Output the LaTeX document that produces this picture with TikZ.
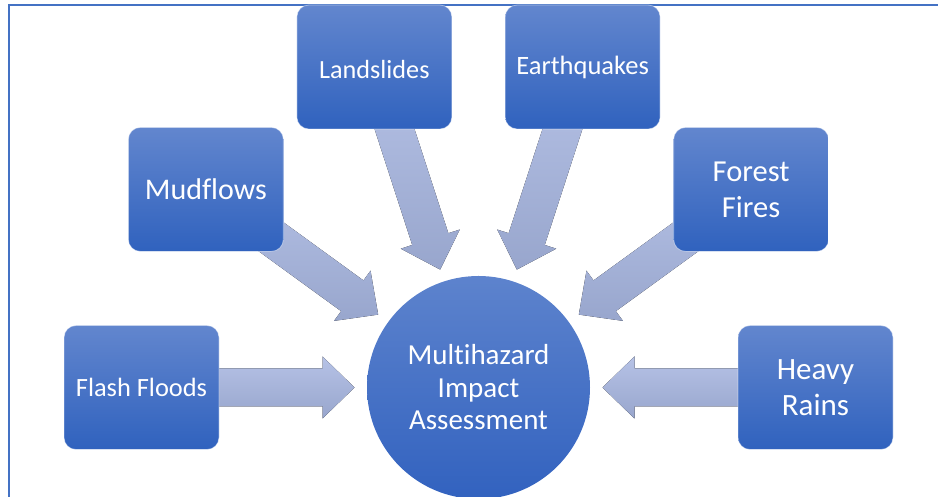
\documentclass[tikz,border=0pt]{standalone}
\usepackage{fontspec}
\setmainfont{Carlito}[Ligatures={NoCommon}]
\usetikzlibrary{calc}
\definecolor{boxtop}{HTML}{6286CE}
\definecolor{boxbot}{HTML}{3062BE}
\definecolor{hubtop}{HTML}{5D83CD}
\definecolor{hubbot}{HTML}{3262BF}
\definecolor{arrtop}{HTML}{B6C2E6}
\definecolor{arrbot}{HTML}{98A6CD}
\definecolor{framecol}{HTML}{4472C4}
\begin{document}
\begin{tikzpicture}[x=1pt,y=1pt,
  hazard/.style={rectangle, rounded corners=12pt, minimum width=155pt, minimum height=124pt,
    top color=boxtop, bottom color=boxbot, draw=white, draw opacity=0.45, line width=0.8pt,
    text=white, align=center, inner sep=0pt},
  hubstyle/.style={circle, minimum size=223pt, top color=hubtop, bottom color=hubbot,
    text=white, align=center, inner sep=0pt},
  bigarrow/.style={top color=arrtop, bottom color=arrbot, draw=none},
  frameline/.style={draw=framecol, line width=1.6pt}]
\useasboundingbox (0,0) rectangle (938,497);
\clip (0,0) rectangle (938,497);
\coordinate (f1) at (9,0);
\coordinate (f2) at (9,492);
\coordinate (f3) at (938,492);
\draw[frameline] (f1) -- (f2) -- (f3);

\node[hubstyle, font=\fontsize{29}{32.5}\selectfont] (hub) at (478.5,109.5) {Multihazard\\Impact\\Assessment};

\foreach \a in {180,144,108,72,36,0} {
  \fill[bigarrow]
    ($(hub.center)+(\a:124)$) --
    ($(hub.center)+(\a:156)+(\a+90:31)$) --
    ($(hub.center)+(\a:156)+(\a+90:19)$) --
    ($(hub.center)+(\a:337)+(\a+90:19)$) --
    ($(hub.center)+(\a:337)+(\a-90:19)$) --
    ($(hub.center)+(\a:156)+(\a-90:19)$) --
    ($(hub.center)+(\a:156)+(\a-90:31)$) -- cycle;
}

\node[hazard, font=\fontsize{26.4}{31}\selectfont] (flash) at ($(hub.center)+(180:337)$) {Flash Floods};
\node[hazard, font=\fontsize{30}{36}\selectfont] (mud) at ($(hub.center)+(144:337)$) {Mudflows};
\node[hazard, font=\fontsize{26.2}{31}\selectfont, text height=24pt, text depth=0pt] (land) at ($(hub.center)+(108:337)$) {Landslides};
\node[hazard, font=\fontsize{26.5}{31}\selectfont] (earth) at ($(hub.center)+(72:337)$) {Earthquakes};
\node[hazard, font=\fontsize{30.5}{36}\selectfont] (forest) at ($(hub.center)+(36:337)$) {Forest\\Fires};
\node[hazard, font=\fontsize{31}{36}\selectfont] (heavy) at ($(hub.center)+(0:337)$) {Heavy\\Rains};
\end{tikzpicture}
\end{document}
